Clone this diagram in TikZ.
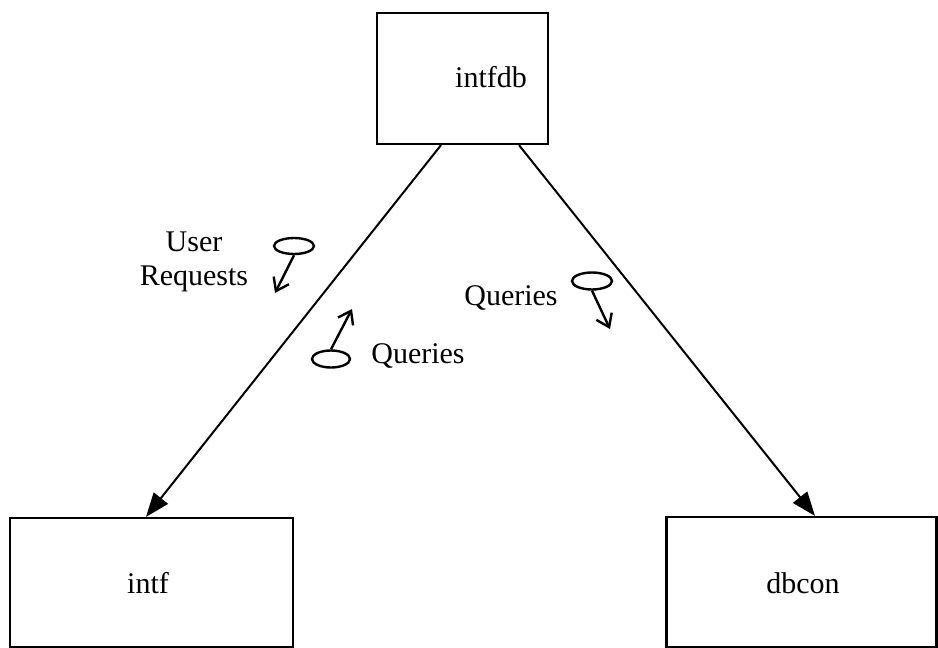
\documentclass[tikz,border=0pt]{standalone}
\usepackage{fontspec}
\setmainfont{Liberation Serif}
\usetikzlibrary{arrows.meta,shapes.geometric,calc}
\begin{document}
\begin{tikzpicture}[x=1pt,y=-1pt,
  box/.style={draw,line width=2.2pt,rectangle,inner sep=0pt},
  lbl/.style={font=\fontsize{30}{34}\selectfont,inner sep=0pt},
  flow/.style={line width=2pt,-{Triangle[length=24pt,width=18pt]}},
  cpl/.style={draw,ellipse,line width=2.4pt,inner sep=0pt},
  cplarrow/.style={line width=2.4pt,-{Straight Barb[length=12pt,width=17pt]}}]
\useasboundingbox (0,0) rectangle (938,648);
% boxes
\node[box,minimum width=171pt,minimum height=131pt] (intfdb) at (462.5,78.5) {};
\node[lbl] (tintfdb) at (491,77) {intfdb};
\node[box,minimum width=283pt,minimum height=129pt] (intf) at (151.5,582.5) {};
\node[lbl] (tintf) at (148,583) {intf};
\node[box,minimum width=270pt,minimum height=130pt] (dbcon) at (801.5,582) {};
\node[lbl] (tdbcon) at (803,583) {dbcon};
% connectors
\draw[flow] (441,0 |- intfdb.south) -- (146,0 |- intf.north);
\draw[flow] (519,0 |- intfdb.south) -- (815,0 |- dbcon.north);
% labels
\node[lbl,align=center] (ur) at (194,262) {User\\Requests};
\node[lbl] (q1) at (418,356) {Queries};
\node[lbl] (q2) at (511,298) {Queries};
% couples
\node[cpl,minimum width=40pt,minimum height=16pt] (c1) at (294,246) {};
\coordinate (c1t) at (275,293);
\draw[cplarrow] (c1.south) -- (c1t);
\node[cpl,minimum width=38pt,minimum height=17pt] (c2) at (331,359) {};
\coordinate (c2t) at (352,309);
\draw[cplarrow] (c2.north) -- (c2t);
\node[cpl,minimum width=40pt,minimum height=17pt] (c3) at (592,281) {};
\coordinate (c3t) at (610,329);
\draw[cplarrow] (c3.south) -- (c3t);
\end{tikzpicture}
\end{document}
